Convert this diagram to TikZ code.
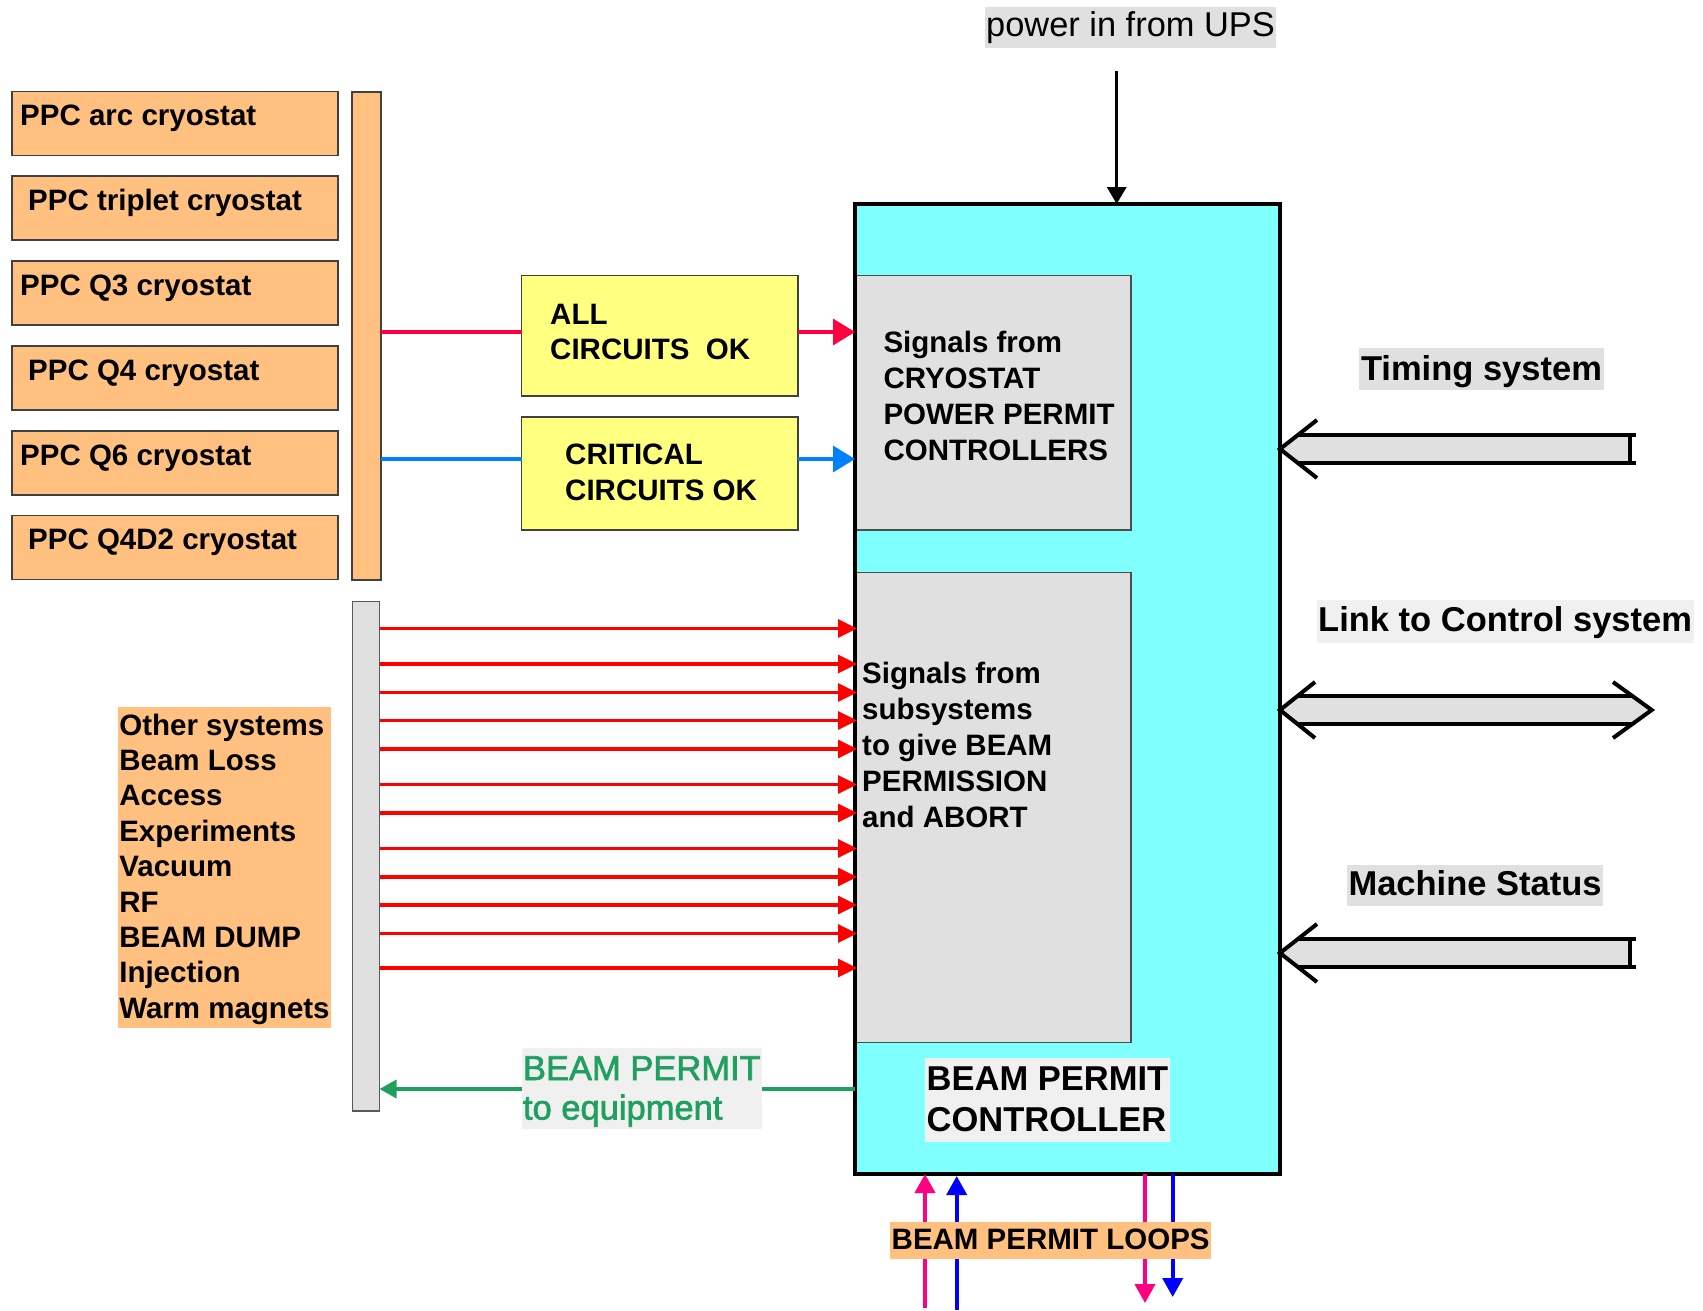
\documentclass[tikz,border=0pt]{standalone}
\usepackage{fontspec}
\setmainfont{Liberation Sans}
\newfontfamily\embfont[FakeBold=2]{Liberation Sans}
\usetikzlibrary{calc,arrows.meta}
\definecolor{boxorange}{HTML}{FFC080}
\definecolor{boxyellow}{HTML}{FFFF80}
\definecolor{ctrlcyan}{HTML}{80FFFF}
\definecolor{panelgray}{HTML}{E0E0E0}
\definecolor{tagback}{HTML}{F0F0F0}
\definecolor{allred}{HTML}{FF0040}
\definecolor{critblue}{HTML}{0080FF}
\definecolor{permitgreen}{HTML}{20A060}
\definecolor{looppink}{HTML}{FF0080}
\definecolor{loopblue}{HTML}{0000FF}
% left-aligned lines whose baseline is the first line's baseline
\newcommand\txtlines[1]{\begin{tabular}[t]{@{}l@{}}#1\end{tabular}}

\begin{document}
\begin{tikzpicture}[x=1pt,y=-1pt,
  box/.style={draw=black!75,line width=1.5pt,inner sep=0pt,outer sep=0pt,anchor=north west},
  smallbold/.style={font=\fontsize{29.5}{36}\selectfont\bfseries},
  listbold/.style={font=\fontsize{29.5}{35.4}\selectfont\bfseries},
  bigbold/.style={font=\fontsize{34.5}{41.5}\selectfont\bfseries},
  txt/.style={anchor=base west,inner sep=0pt},
  tag/.style={anchor=base west,inner ysep=0pt,outer sep=0pt},
  sig/.style={line width=3.3pt,-{Triangle[length=19pt,width=18pt]}},
  feed/.style={line width=3.3pt,-{Triangle[length=22pt,width=26pt]}},
  loopline/.style={line width=4pt,-{Triangle[length=19pt,width=20pt]}},
  fat/.style={line width=4pt},
]
\fill[white] (0,0) rectangle (1703,1310);
\useasboundingbox (0,0) rectangle (1703,1310);

% cryostat power permit controllers
\foreach \i/\top/\dx/\name in {1/91.7/8/PPC arc cryostat,2/176/16/PPC triplet cryostat,3/261/8/PPC Q3 cryostat,4/346/16/PPC Q4 cryostat,5/431/8/PPC Q6 cryostat,6/515.7/16/PPC Q4D2 cryostat}{
  \node[box,fill=boxorange,minimum width=326pt,minimum height=64pt] (cryo\i) at (12,\top) {};
  \node[txt,smallbold] (cryo\i txt) at ($(cryo\i.north west)+(\dx,34)$) {\name};
}
\node[box,fill=boxorange,minimum width=29pt,minimum height=488pt] (cbar) at (352,92) {};

% summary boxes
\node[box,fill=boxyellow,minimum width=276.3pt,minimum height=120.3pt] (allok) at (521.7,275.7) {};
\node[txt,font=\fontsize{29.5}{35}\selectfont\bfseries] (allokt) at (550,324) {\txtlines{ALL\\CIRCUITS\ \ OK}};
\node[box,fill=boxyellow,minimum width=276.3pt,minimum height=113pt] (critok) at (521.7,417) {};
\node[txt,font=\fontsize{29.5}{36.7}\selectfont\bfseries] (critokt) at (565,464) {\txtlines{CRITICAL\\CIRCUITS OK}};

% beam permit controller
\node[box,draw=none,fill=ctrlcyan,minimum width=425pt,minimum height=970pt] (bpc) at (855,204) {};
\node[box,draw=black!70,line width=1.2pt,fill=panelgray,minimum width=276pt,minimum height=254.3pt] (cryosig) at (855,275.7) {};
\node[box,draw=black!70,line width=1.2pt,fill=panelgray,minimum width=276pt,minimum height=470.2pt] (subsig) at (855,572.5) {};
\node[txt,smallbold] (cryosigt) at (883.3,352.7) {\txtlines{Signals from\\CRYOSTAT\\POWER PERMIT\\CONTROLLERS}};
\node[txt,smallbold] (subsigt) at (862,683.3) {\txtlines{Signals from\\subsystems\\to give BEAM\\PERMISSION\\and ABORT}};
\draw[line width=3.5pt] (bpc.north west) rectangle (bpc.south east);

% power input
\node[tag,font=\fontsize{34.4}{41}\selectfont,fill=panelgray,inner xsep=1.5pt,text height=30pt,text depth=11pt] (ups) at (984.7,36.7) {power in from UPS};
\coordinate (upsin) at (1116.7,71);
\draw[line width=3.3pt,-{Triangle[length=17pt,width=19pt]}] (upsin) -- (upsin |- bpc.north);

% cryostat signals
\coordinate (yall) at (0,332);
\coordinate (ycrit) at (0,459);
\draw[allred,line width=3.3pt] (cbar.east |- yall) -- (allok.west |- yall);
\draw[allred,feed] (allok.east |- yall) -- (cryosig.west |- yall);
\draw[critblue,line width=3.3pt] (cbar.east |- ycrit) -- (critok.west |- ycrit);
\draw[critblue,feed] (critok.east |- ycrit) -- (cryosig.west |- ycrit);

% subsystem signals
\node[box,draw=black!65,line width=1.2pt,fill=panelgray,minimum width=27pt,minimum height=509.3pt] (sbar) at (352.5,601.7) {};
\foreach \i/\y in {1/628.5,2/664,3/692.5,4/720.5,5/749,6/784.5,7/813,8/848.5,9/877,10/905,11/933.5,12/968}{
  \coordinate (rs\i) at (0,\y);
  \draw[red,sig] (sbar.east |- rs\i) -- ($(subsig.west |- rs\i)+(2,0)$);
}
\node[tag,listbold,fill=boxorange,inner xsep=1pt,text height=27.7pt,text depth=293.3pt] (others) at (118.3,735)
  {\txtlines{Other systems\\Beam Loss\\Access\\Experiments\\Vacuum\\RF\\BEAM DUMP\\Injection\\Warm magnets}};

% beam permit to equipment
\coordinate (gy) at (0,1089);
\draw[permitgreen,line width=3.3pt,-{Triangle[length=17pt,width=18pt]}] (bpc.west |- gy) -- (sbar.east |- gy);
\node[tag,font=\embfont\fontsize{34.5}{39.5}\selectfont,text=permitgreen,fill=tagback,inner xsep=1pt,text height=31.7pt,text depth=49pt] (permit) at (522,1080)
  {\txtlines{BEAM PERMIT\\to equipment}};

\node[tag,bigbold,fill=tagback,inner xsep=1.7pt,text height=31.7pt,text depth=51.7pt] (bpclabel) at (925,1090) {\txtlines{BEAM PERMIT\\CONTROLLER}};

% beam permit loops
\coordinate (lp1) at (925,1308);
\coordinate (lp2) at (956.7,1310);
\coordinate (lp3) at (1145,1303);
\coordinate (lp4) at (1172.7,1297);
\draw[loopline,looppink] (lp1) -- (lp1 |- bpc.south);
\draw[loopline,loopblue] (lp2) -- ($(lp2 |- bpc.south)+(0,2)$);
\draw[loopline,looppink] (lp3 |- bpc.south) -- (lp3);
\draw[loopline,loopblue] (lp4 |- bpc.south) -- (lp4);
\node[tag,smallbold,fill=boxorange,inner xsep=1.7pt,text height=27pt,text depth=9.7pt] (loops) at (890,1249.3) {BEAM PERMIT LOOPS};

% timing system input
\coordinate (tY) at (0,449);
\coordinate (tipT) at (bpc.east |- tY);
\fill[panelgray] (tipT) -- ($(tipT)+(18,-14)$) -- ($(tipT)+(350,-14)$) -- ($(tipT)+(350,14)$) -- ($(tipT)+(18,14)$) -- cycle;
\draw[fat] ($(tipT)+(37,-29)$) -- (tipT) -- ($(tipT)+(37,29)$);
\draw[fat] ($(tipT)+(18,-14)$) -- ($(tipT)+(356,-14)$);
\draw[fat] ($(tipT)+(18,14)$) -- ($(tipT)+(356,14)$);
\draw[fat] ($(tipT)+(350,-14)$) -- ($(tipT)+(350,14)$);
\node[tag,bigbold,fill=panelgray,inner xsep=2pt,text height=32.8pt,text depth=9.4pt] (timing) at (1359,380.6) {Timing system};

% control system link
\coordinate (lY) at (0,710);
\coordinate (tipL) at (bpc.east |- lY);
\fill[panelgray] (tipL) -- ($(tipL)+(17.5,-14)$) -- ($(tipL)+(352.4,-14)$) -- ($(tipL)+(371.7,0)$) -- ($(tipL)+(352.4,14)$) -- ($(tipL)+(17.5,14)$) -- cycle;
\draw[fat] ($(tipL)+(35,-28)$) -- (tipL) -- ($(tipL)+(35,28)$);
\draw[fat] ($(tipL)+(333,-28)$) -- ($(tipL)+(371.7,0)$) -- ($(tipL)+(333,28)$);
\draw[fat] ($(tipL)+(17.5,-14)$) -- ($(tipL)+(352.4,-14)$);
\draw[fat] ($(tipL)+(17.5,14)$) -- ($(tipL)+(352.4,14)$);
\node[tag,bigbold,fill=tagback,inner xsep=1.5pt,text height=31.8pt,text depth=11.2pt] (link) at (1316.7,631.8) {Link to Control system};

% machine status input
\coordinate (mY) at (0,953);
\coordinate (tipM) at (bpc.east |- mY);
\fill[panelgray] (tipM) -- ($(tipM)+(18,-14)$) -- ($(tipM)+(350,-14)$) -- ($(tipM)+(350,14)$) -- ($(tipM)+(18,14)$) -- cycle;
\draw[fat] ($(tipM)+(37,-29)$) -- (tipM) -- ($(tipM)+(37,29)$);
\draw[fat] ($(tipM)+(18,-14)$) -- ($(tipM)+(356,-14)$);
\draw[fat] ($(tipM)+(18,14)$) -- ($(tipM)+(356,14)$);
\draw[fat] ($(tipM)+(350,-14)$) -- ($(tipM)+(350,14)$);
\node[tag,bigbold,fill=panelgray,inner xsep=1.5pt,text height=31.1pt,text depth=10.4pt] (machine) at (1347,895.9) {Machine Status};
\end{tikzpicture}
\end{document}
